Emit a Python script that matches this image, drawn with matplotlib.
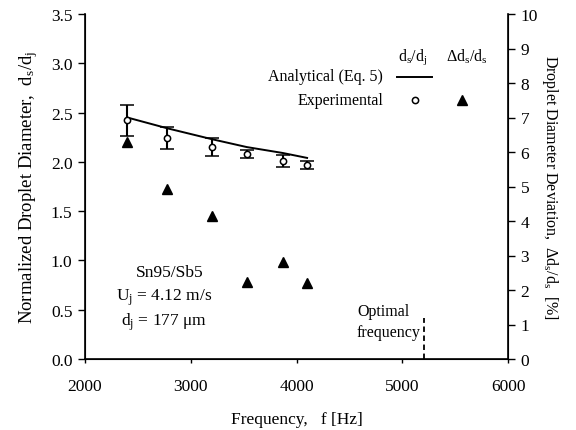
import matplotlib
matplotlib.use("Agg")
import matplotlib.pyplot as plt
from matplotlib.lines import Line2D

plt.rcParams['font.family'] = ['Liberation Serif', 'DejaVu Serif']
plt.rcParams['mathtext.fontset'] = 'custom'
plt.rcParams['mathtext.rm'] = 'Liberation Serif'
plt.rcParams['mathtext.it'] = 'Liberation Serif:italic'

# ---- data ----
freq = [2400, 2780, 3200, 3530, 3870, 4100]
ds_dj_exp = [2.42, 2.24, 2.15, 2.08, 2.01, 1.97]
ds_dj_err = [0.155, 0.11, 0.09, 0.045, 0.06, 0.04]
analytical_freq = [2400, 2780, 3200, 3530, 3870, 4100]
analytical = [2.45, 2.34, 2.23, 2.15, 2.09, 2.04]
deviation = [6.3, 4.93, 4.15, 2.22, 2.80, 2.19]
optimal_freq = 5210
optimal_top = 1.2  # in % (right axis)
x_ticks = [2000, 3000, 4000, 5000, 6000]
left_ticks = [0.0, 0.5, 1.0, 1.5, 2.0, 2.5, 3.0, 3.5]
right_ticks = list(range(0, 11))

W, H = 576, 431
fig = plt.figure(figsize=(W / 100, H / 100), dpi=100)
ax = fig.add_axes([85 / W, 1 - 360 / H, (508 - 85) / W, (360 - 15) / H])
ax2 = ax.twinx()

fs = 12.5
ax.plot(analytical_freq, analytical, color='black', lw=1.4, zorder=3)
ax.errorbar(freq, ds_dj_exp, yerr=ds_dj_err, fmt='o', mfc='white', mec='black',
            ms=4.5, mew=1.1, ecolor='black', elinewidth=1.5, capsize=5,
            capthick=1.5, zorder=4)
ax2.plot(freq, deviation, linestyle='none', marker='^', color='black', ms=7.5)
ax2.plot([optimal_freq, optimal_freq], [0, optimal_top], color='black',
         lw=1.3, ls=(0, (3, 2)))

ax.set_xlim(2000, 6000)
ax.set_ylim(0, 3.5)
ax2.set_ylim(0, 10)
ax.set_xticks(x_ticks)
ax.set_yticks(left_ticks)
ax.set_yticklabels([f"{v:.1f}" for v in left_ticks])
ax2.set_yticks(right_ticks)

for a in (ax, ax2):
    a.spines['top'].set_visible(False)
    a.tick_params(direction='out', length=5, width=1, labelsize=fs, pad=4)
ax.tick_params(axis='x', length=3, pad=11)
ax.spines['left'].set_linewidth(1.2)
ax.spines['bottom'].set_linewidth(1.2)
ax2.spines['right'].set_linewidth(1.2)

ax.set_xlabel(r'Frequency,   f [Hz]', fontsize=12.5, labelpad=12)
ax.set_ylabel(r'Normalized Droplet Diameter,  d$_\mathrm{s}$/d$_\mathrm{j}$',
              fontsize=13.5, labelpad=8)
ax2.set_ylabel(r'Droplet Diameter Deviation,  Δd$_\mathrm{s}$/d$_\mathrm{s}$  [%]',
               fontsize=11.5, rotation=270, labelpad=16)

def fx(x):
    return x / W

def fy(y):
    return 1 - y / H

# legend (manual)
lfs = 11.5
fig.text(fx(413), fy(57), r'd$_\mathrm{s}$/d$_\mathrm{j}$', ha='center', va='center', fontsize=lfs)
fig.text(fx(467), fy(57), r'Δd$_\mathrm{s}$/d$_\mathrm{s}$', ha='center', va='center', fontsize=lfs)
fig.text(fx(383), fy(77), 'Analytical (Eq. 5)', ha='right', va='center', fontsize=lfs)
fig.text(fx(383), fy(101), 'Experimental', ha='right', va='center', fontsize=lfs)
fig.add_artist(Line2D([fx(397), fx(432)], [fy(78), fy(78)], color='black', lw=1.4))
fig.add_artist(Line2D([fx(415)], [fy(101)], marker='o', mfc='white', mec='black',
                      ms=4.5, mew=1.1, ls='none'))
fig.add_artist(Line2D([fx(462)], [fy(101)], marker='^', color='black', ms=7.5, ls='none'))

# annotations
afs = 12.5
fig.text(fx(170), fy(273), 'Sn95/Sb5', ha='center', va='center', fontsize=afs)
fig.text(fx(164), fy(298), r'U$_\mathrm{j}$ = 4.12 m/s', ha='center', va='center', fontsize=afs)
fig.text(fx(164), fy(322), r'd$_\mathrm{j}$ = 177 μm', ha='center', va='center', fontsize=afs)
fig.text(fx(357), fy(312), 'Optimal', ha='left', va='center', fontsize=11.5)
fig.text(fx(357), fy(333), 'frequency', ha='left', va='center', fontsize=11.5)

fig.savefig('out.png', dpi=100)
